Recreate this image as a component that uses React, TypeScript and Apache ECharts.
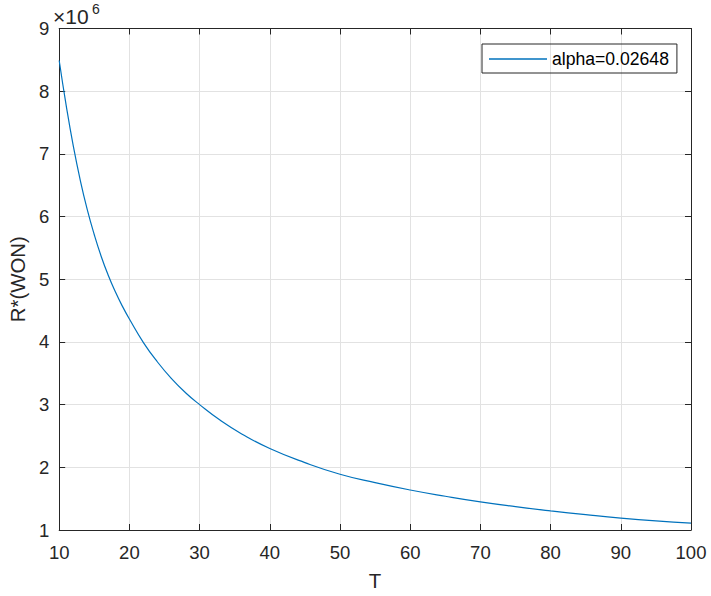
import React, { useEffect, useRef } from "react";
import * as echarts from "echarts";

// T (horizontal axis)
const tValues = [10, 11, 12, 13, 14, 15, 16, 17, 18, 19, 20, 22, 24, 26, 28, 30, 33, 36, 40, 45, 50, 55, 60, 65, 70, 75, 80, 85, 90, 95, 100];
// R*(WON) in units of 10^6
const rValues = [8.49, 7.77, 7.13, 6.58, 6.11, 5.71, 5.36, 5.06, 4.80, 4.57, 4.365, 3.99, 3.68, 3.415, 3.19, 3.00, 2.745, 2.533, 2.30, 2.075, 1.89, 1.755, 1.638, 1.538, 1.448, 1.372, 1.305, 1.245, 1.19, 1.145, 1.11];
const seriesName = "alpha=0.02648";
const xTicks = { min: 10, max: 100, interval: 10 };
const yTicks = { min: 1, max: 9, interval: 1 };

const FONT = "'Liberation Sans', Arial, Helvetica, sans-serif";
const INK = "#262626";

export default function App() {
  const ref = useRef<HTMLDivElement>(null);
  useEffect(() => {
    if (!ref.current) return;
    const chart = echarts.init(ref.current, undefined, { renderer: "svg" });
    const data = tValues.map((t, i) => [t, rValues[i]]);
    const axisCommon = {
      axisLine: { show: true, onZero: false, lineStyle: { color: INK, width: 1 } },
      axisTick: { show: true, inside: true, length: 6, lineStyle: { color: INK } },
    };
    chart.setOption({
      animation: false,
      backgroundColor: "#ffffff",
      textStyle: { fontFamily: FONT },
      grid: { left: 52.5, top: 28.5, right: 20, bottom: 62.5, containLabel: false },
      legend: {
        show: true,
        data: [seriesName],
        left: 482,
        top: 44,
        orient: "vertical",
        icon: "rect",
        borderColor: INK,
        borderWidth: 1,
        padding: [6, 8, 5, 7],
        itemWidth: 58,
        itemHeight: 1.5,
        textStyle: { fontSize: 17.6, color: "#000", fontFamily: FONT },
      },
      xAxis: [
        {
          type: "value",
          min: xTicks.min,
          max: xTicks.max,
          interval: xTicks.interval,
          position: "bottom",
          name: "T",
          nameLocation: "middle",
          nameGap: 41,
          nameTextStyle: { fontSize: 20.4, color: INK, fontFamily: FONT },
          axisLabel: { fontSize: 18.5, color: INK, margin: 13, fontFamily: FONT },
          splitLine: { show: true, lineStyle: { color: "#e2e2e2", width: 1 } },
          ...axisCommon,
        },
        {
          type: "value",
          min: xTicks.min,
          max: xTicks.max,
          interval: xTicks.interval,
          position: "top",
          axisLabel: { show: false },
          splitLine: { show: false },
          ...axisCommon,
        },
      ],
      yAxis: [
        {
          type: "value",
          min: yTicks.min,
          max: yTicks.max,
          interval: yTicks.interval,
          position: "left",
          name: "R*(WON)",
          nameLocation: "middle",
          nameGap: 28,
          nameTextStyle: { fontSize: 20.4, color: INK, fontFamily: FONT },
          axisLabel: { fontSize: 18.5, color: INK, margin: 10, fontFamily: FONT },
          splitLine: { show: true, lineStyle: { color: "#e2e2e2", width: 1 } },
          ...axisCommon,
        },
        {
          type: "value",
          min: yTicks.min,
          max: yTicks.max,
          interval: yTicks.interval,
          position: "right",
          axisLabel: { show: false },
          splitLine: { show: false },
          ...axisCommon,
        },
      ],
      graphic: [
        {
          type: "text",
          left: 53,
          top: 6,
          style: { text: "×10", fontSize: 21, fill: INK, fontFamily: FONT },
        },
        {
          type: "text",
          left: 92,
          top: 2,
          style: { text: "6", fontSize: 14, fill: INK, fontFamily: FONT },
        },
      ],
      series: [
        {
          name: seriesName,
          type: "line",
          xAxisIndex: 0,
          yAxisIndex: 0,
          data,
          smooth: true,
          symbol: "none",
          showSymbol: false,
          lineStyle: { color: "#0072BD", width: 1.2 },
          itemStyle: { color: "#0072BD" },
        },
      ],
    });
    return () => chart.dispose();
  }, []);
  return (
    <div
      ref={ref}
      style={{ position: "fixed", left: 0, top: 0, width: 711, height: 596, background: "#fff" }}
    />
  );
}
